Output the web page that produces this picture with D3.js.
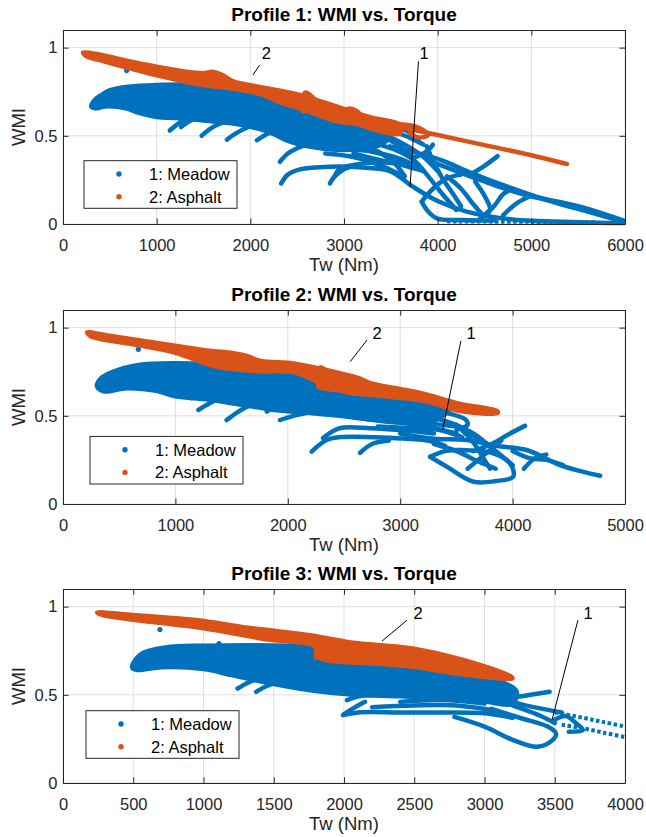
<!DOCTYPE html>
<html><head><meta charset="utf-8">
<script src="https://cdn.jsdelivr.net/npm/d3@7"></script>
<style>
body{margin:0;background:#fff}
svg text{font-family:"Liberation Sans",Arial,Helvetica,sans-serif}
</style>
</head><body>
<svg id="chart" width="646" height="837"></svg>
<script>
// ---------------- DATA ----------------
const profileTitles = ["Profile 1: WMI vs. Torque","Profile 2: WMI vs. Torque","Profile 3: WMI vs. Torque"];
const xMaxes = [6000, 5000, 4000];
const xTicksP1 = [0,1000,2000,3000,4000,5000,6000];
const xTicksP2 = [0,1000,2000,3000,4000,5000];
const xTicksP3 = [0,500,1000,1500,2000,2500,3000,3500,4000];
const yTicks = [0, 0.5, 1];
const yMax = 1.1;
const xLabel = "Tw (Nm)";
const yLabel = "WMI";
const seriesNames = ["1: Meadow", "2: Asphalt"];

// Profile 1 ---------------------------------------------------------
const asphaltBodyP1 = [[210,0.975],[400,0.962],[670,0.93],[1000,0.895],[1300,0.868],[1500,0.858],[1600,0.866],[1700,0.848],[1820,0.812],[2100,0.78],[2530,0.735],[3000,0.655],[3300,0.605],[3600,0.565],[3600,0.51],[3300,0.535],[3170,0.56],[2880,0.585],[2600,0.64],[2300,0.69],[2100,0.735],[1800,0.765],[1490,0.785],[1300,0.805],[1000,0.84],[670,0.885],[400,0.925],[240,0.95]];
const asphaltTracesP1 = [
  [[3500,0.56],[4000,0.505],[4500,0.447],[5000,0.39],[5380,0.34]],
  [[2560,0.64],[2583,0.745],[2708,0.685],[2562,0.637]],
  [[2880,0.60],[3064,0.655],[3170,0.62],[3028,0.575]],
  [[3600,0.565],[3700,0.56],[3800,0.545],[3900,0.505],[3800,0.49],[3700,0.515]]
];
const meadowBodyP1 = [[300,0.665],[330,0.70],[400,0.73],[500,0.76],[700,0.78],[1000,0.79],[1400,0.792],[1800,0.79],[2000,0.77],[2200,0.745],[2500,0.70],[2800,0.66],[3100,0.61],[3300,0.575],[3500,0.54],[3500,0.50],[3400,0.45],[3200,0.425],[2900,0.42],[2600,0.44],[2400,0.47],[2200,0.52],[2000,0.55],[1800,0.57],[1500,0.585],[1200,0.60],[1000,0.605],[800,0.63],[670,0.655],[450,0.665],[350,0.655]];
const meadowTracesP1 = [
  [[1140,0.53],[1220,0.565],[1320,0.60],[1420,0.625]],
  [[1260,0.55],[1360,0.585],[1480,0.61]],
  [[1480,0.50],[1570,0.54],[1680,0.57],[1800,0.59]],
  [[1750,0.478],[1850,0.515],[1980,0.55],[2100,0.57]],
  [[2070,0.475],[2160,0.505],[2280,0.53],[2400,0.55]],
  [[2316,0.353],[2400,0.40],[2500,0.43],[2600,0.45]],
  [[2850,0.23],[2900,0.27],[3000,0.31],[3100,0.33]],
  [[2900,0.56],[3200,0.53],[3450,0.50],[3650,0.45],[3850,0.38],[4000,0.30]],
  [[3000,0.50],[3300,0.46],[3550,0.42],[3750,0.36],[3900,0.27],[4050,0.17],[4200,0.08]],
  [[2950,0.45],[3250,0.42],[3500,0.38],[3700,0.33]],
  [[3300,0.58],[3500,0.53],[3700,0.49],[3850,0.45]],
  [[3100,0.40],[3400,0.36],[3650,0.33],[3850,0.30]],
  [[2700,0.45],[3000,0.43],[3300,0.41],[3600,0.37],[3800,0.32]],
  [[2800,0.40],[3100,0.38],[3400,0.33],[3600,0.28]],
  [[3200,0.45],[3400,0.40],[3550,0.34],[3650,0.27]],
  [[3400,0.50],[3600,0.44],[3750,0.38],[3900,0.42],[3950,0.45]],
  [[3550,0.55],[3700,0.52],[3800,0.47]],
  [[2330,0.23],[2400,0.28],[2530,0.31],[2850,0.325],[3200,0.32],[3490,0.30],[3740,0.21],[4000,0.13],[4310,0.07],[4800,0.025],[5500,0.01],[5980,0.005]],
  [[2900,0.27],[2950,0.31],[3100,0.335],[3400,0.35],[3600,0.34]],
  [[3490,0.44],[3800,0.40],[4100,0.35],[4310,0.30],[4700,0.22],[5164,0.136],[5600,0.07],[5980,0.013]],
  [[3900,0.36],[4200,0.30],[4452,0.25],[4900,0.17],[5520,0.098],[5980,0.02]],
  [[4377,0.29],[4500,0.33],[4640,0.385]],
  [[3883,0.44],[3950,0.36],[4050,0.26],[4165,0.17],[4250,0.10]],
  [[3829,0.127],[3900,0.07],[4000,0.03],[4270,0.023],[4600,0.02]],
  [[3829,0.127],[3950,0.20],[4100,0.26],[4250,0.28]],
  [[4100,0.27],[4250,0.20],[4400,0.10],[4500,0.05],[4560,0.08],[4500,0.16],[4400,0.24]],
  [[4450,0.03],[4600,0.10],[4700,0.17],[4800,0.20]],
  [[4700,0.05],[4850,0.12],[5000,0.16]]
];
const meadowDottedP1 = [[[4100,0.015],[5000,0.012],[5700,0.01]]];
const meadowStrayP1 = [[680,0.87]];
const annotationsP1 = [
  {label:"2", text:[2172,0.968], from:[2098,0.90], to:[2028,0.845]},
  {label:"1", text:[3855,0.968], from:[3795,0.922], to:[3705,0.21]}
];

// Profile 2 ---------------------------------------------------------
const asphaltBodyP2 = [[210,0.975],[400,0.958],[1000,0.90],[1300,0.872],[1515,0.858],[1650,0.84],[1750,0.815],[2050,0.80],[2290,0.77],[2640,0.715],[2730,0.69],[3180,0.632],[3530,0.572],[3870,0.527],[3870,0.515],[3530,0.525],[3235,0.578],[2900,0.605],[2490,0.635],[2300,0.68],[2050,0.745],[1750,0.75],[1335,0.78],[1000,0.855],[600,0.905],[240,0.95]];
const asphaltTracesP2 = [
  [[2270,0.665],[2290,0.775],[2470,0.65],[2280,0.66]],
  [[2600,0.63],[2700,0.68],[2750,0.64]]
];
const meadowBodyP2 = [[300,0.667],[330,0.71],[420,0.745],[670,0.79],[1000,0.80],[1460,0.79],[2020,0.765],[2300,0.725],[2700,0.665],[3000,0.625],[3250,0.585],[3450,0.55],[3300,0.47],[3000,0.46],[2700,0.48],[2435,0.50],[2100,0.52],[1900,0.53],[1600,0.56],[1300,0.59],[1000,0.61],[830,0.64],[570,0.655],[360,0.637]];
const meadowTracesP2 = [
  [[1145,0.60],[1250,0.63],[1367,0.656]],
  [[1204,0.533],[1300,0.57],[1400,0.60],[1515,0.618]],
  [[1456,0.476],[1550,0.52],[1650,0.555],[1753,0.571]],
  [[1812,0.524],[1900,0.56],[2000,0.59],[2108,0.609]],
  [[1930,0.476],[2050,0.50],[2200,0.52]],
  [[2212,0.297],[2346,0.363],[2490,0.38],[2900,0.375],[3240,0.36],[3400,0.33]],
  [[2313,0.374],[2464,0.43],[2730,0.43],[3000,0.42],[3300,0.40]],
  [[2642,0.29],[2750,0.34],[2900,0.36]],
  [[2700,0.48],[3000,0.46],[3240,0.44],[3500,0.40]],
  [[2900,0.52],[3200,0.50],[3450,0.46],[3650,0.40],[3850,0.30],[4000,0.22]],
  [[3200,0.56],[3400,0.52],[3580,0.48],[3600,0.45],[3500,0.42]],
  [[3000,0.40],[3300,0.37],[3591,0.363],[3850,0.33],[4125,0.306],[4422,0.221],[4780,0.16]],
  [[3265,0.268],[3400,0.30],[3532,0.306],[3828,0.287],[3977,0.23],[4006,0.155],[3850,0.13],[3650,0.127],[3414,0.212],[3265,0.268]],
  [[3650,0.30],[3828,0.344],[3950,0.39],[4110,0.443]],
  [[3500,0.45],[3650,0.35],[3750,0.25],[3800,0.20]],
  [[3600,0.20],[3750,0.28],[3900,0.36]],
  [[4000,0.30],[4150,0.26],[4300,0.25],[4450,0.22]],
  [[4100,0.20],[4200,0.26],[4300,0.28]],
  [[3300,0.34],[3500,0.30],[3700,0.24],[3850,0.20]],
  [[2800,0.44],[3100,0.43],[3350,0.42],[3550,0.38]],
  [[3100,0.48],[3350,0.45],[3550,0.43],[3700,0.36]]
];
const meadowDottedP2 = [];
const meadowStrayP2 = [[670,0.877]];
const annotationsP2 = [
  {label:"2", text:[2794,0.97], from:[2705,0.93], to:[2555,0.807]},
  {label:"1", text:[3630,0.97], from:[3540,0.925], to:[3378,0.42]}
];

// Profile 3 ---------------------------------------------------------
const asphaltBodyP3 = [[240,0.968],[500,0.955],[1000,0.922],[1300,0.885],[1460,0.87],[1760,0.84],[2050,0.80],[2490,0.765],[2850,0.70],[3200,0.60],[3200,0.59],[2850,0.612],[2500,0.655],[2200,0.675],[2050,0.68],[1815,0.71],[1800,0.77],[1460,0.81],[1000,0.875],[430,0.93],[260,0.955]];
const asphaltTracesP3 = [
  [[1800,0.71],[1820,0.80],[1900,0.78]]
];
const meadowBodyP3 = [[490,0.656],[550,0.73],[730,0.77],[1000,0.78],[1600,0.78],[2200,0.755],[2500,0.72],[2850,0.65],[3000,0.61],[3230,0.52],[3200,0.45],[3000,0.46],[2700,0.48],[2400,0.49],[2050,0.50],[1800,0.52],[1500,0.56],[1200,0.61],[1000,0.645],[700,0.655],[520,0.64]];
const meadowTracesP3 = [
  [[1243,0.536],[1320,0.57],[1420,0.60]],
  [[1375,0.517],[1450,0.55],[1560,0.58]],
  [[2021,0.47],[2100,0.49],[2200,0.50]],
  [[1993,0.385],[2100,0.40],[2400,0.40],[2700,0.40],[3000,0.395],[3200,0.37]],
  [[2000,0.39],[2080,0.43],[2150,0.46]],
  [[2200,0.43],[2500,0.44],[2800,0.44],[3082,0.41]],
  [[2400,0.46],[2700,0.47],[3000,0.45]],
  [[2786,0.375],[3000,0.32],[3200,0.245],[3374,0.205],[3480,0.24],[3509,0.28],[3450,0.32],[3250,0.37],[3050,0.42]],
  [[3051,0.47],[3250,0.49],[3464,0.517]],
  [[3000,0.50],[3200,0.44],[3400,0.38],[3500,0.34]],
  [[3150,0.47],[3350,0.43],[3550,0.40]],
  [[3500,0.36],[3580,0.38],[3650,0.34],[3700,0.30],[3600,0.29]]
];
const meadowDottedP3 = [
  [[3500,0.40],[3700,0.37],[3850,0.345],[4000,0.32]],
  [[3550,0.33],[3700,0.31],[3850,0.285],[4000,0.26]]
];
const meadowStrayP3 = [[690,0.87],[1110,0.79],[1950,0.77]];
const annotationsP3 = [
  {label:"2", text:[2527,0.963], from:[2448,0.923], to:[2270,0.804]},
  {label:"1", text:[3737,0.963], from:[3665,0.923], to:[3480,0.356]}
];

// ---------------- LAYOUT / STYLE ----------------
const colors = {meadow:"#0072BD", asphalt:"#D95319", axis:"#262626", grid:"#dfdfdf"};
const plotLeft = 63, plotWidth = 562, plotHeight = 194;
const panelTops = [30, 310, 589];
const legendOffsets = [[21, 15.7], [27, 20], [23, 24.7]]; // [from left, from bottom]

const panels = [
  {title:profileTitles[0], xMax:xMaxes[0], xTicks:xTicksP1, aBody:asphaltBodyP1, aTraces:asphaltTracesP1, mBody:meadowBodyP1, mTraces:meadowTracesP1, mDotted:meadowDottedP1, mStray:meadowStrayP1, ann:annotationsP1},
  {title:profileTitles[1], xMax:xMaxes[1], xTicks:xTicksP2, aBody:asphaltBodyP2, aTraces:asphaltTracesP2, mBody:meadowBodyP2, mTraces:meadowTracesP2, mDotted:meadowDottedP2, mStray:meadowStrayP2, ann:annotationsP2},
  {title:profileTitles[2], xMax:xMaxes[2], xTicks:xTicksP3, aBody:asphaltBodyP3, aTraces:asphaltTracesP3, mBody:meadowBodyP3, mTraces:meadowTracesP3, mDotted:meadowDottedP3, mStray:meadowStrayP3, ann:annotationsP3}
];

const svg = d3.select("#chart");
const tickFont = 16.5, labelFont = 18.5, titleFont = 19;

panels.forEach((p, i) => {
  const top = panelTops[i];
  const g = svg.append("g").attr("transform", `translate(${plotLeft},${top})`);
  const x = d3.scaleLinear().domain([0, p.xMax]).range([0, plotWidth]);
  const y = d3.scaleLinear().domain([0, yMax]).range([plotHeight, 0]);

  // grid
  g.append("g").selectAll("line").data(p.xTicks).join("line")
    .attr("x1", d => x(d)).attr("x2", d => x(d)).attr("y1", 0).attr("y2", plotHeight)
    .attr("stroke", colors.grid).attr("stroke-width", 1);
  g.append("g").selectAll("line").data(yTicks).join("line")
    .attr("x1", 0).attr("x2", plotWidth).attr("y1", d => y(d)).attr("y2", d => y(d))
    .attr("stroke", colors.grid).attr("stroke-width", 1);

  const lineClosed = d3.line().x(d => x(d[0])).y(d => y(d[1])).curve(d3.curveCatmullRomClosed.alpha(0.5));
  const lineOpen = d3.line().x(d => x(d[0])).y(d => y(d[1])).curve(d3.curveCatmullRom.alpha(0.5));

  // Meadow
  const gm = g.append("g");
  gm.append("path").attr("d", lineClosed(p.mBody))
    .attr("fill", colors.meadow).attr("stroke", colors.meadow).attr("stroke-width", 4).attr("stroke-linejoin", "round");
  gm.selectAll("path.tr").data(p.mTraces).join("path").attr("class", "tr")
    .attr("d", d => lineOpen(d)).attr("fill", "none").attr("stroke", colors.meadow)
    .attr("stroke-width", 4.5).attr("stroke-linecap", "round").attr("stroke-linejoin", "round");
  gm.selectAll("path.dt").data(p.mDotted).join("path").attr("class", "dt")
    .attr("d", d => lineOpen(d)).attr("fill", "none").attr("stroke", colors.meadow)
    .attr("stroke-width", 4).attr("stroke-dasharray", "3.5,2.5");
  gm.selectAll("circle").data(p.mStray).join("circle")
    .attr("cx", d => x(d[0])).attr("cy", d => y(d[1])).attr("r", 2.6).attr("fill", colors.meadow);

  // Asphalt
  const ga = g.append("g");
  ga.append("path").attr("d", lineClosed(p.aBody))
    .attr("fill", colors.asphalt).attr("stroke", colors.asphalt).attr("stroke-width", 3.5).attr("stroke-linejoin", "round");
  ga.selectAll("path.tr").data(p.aTraces).join("path").attr("class", "tr")
    .attr("d", d => lineOpen(d)).attr("fill", "none").attr("stroke", colors.asphalt)
    .attr("stroke-width", 4.5).attr("stroke-linecap", "round").attr("stroke-linejoin", "round");

  // axes (box with inward ticks)
  const tl = 5.6;
  const axB = g.append("g").attr("transform", `translate(0,${plotHeight})`)
    .call(d3.axisBottom(x).tickValues(p.xTicks).tickFormat(d3.format("d")).tickSizeInner(-tl).tickSizeOuter(0).tickPadding(15));
  const axL = g.append("g")
    .call(d3.axisLeft(y).tickValues(yTicks).tickFormat(d => d === 0.5 ? "0.5" : d3.format("d")(d)).tickSizeInner(-tl).tickSizeOuter(0).tickPadding(5.5));
  const axT = g.append("g")
    .call(d3.axisTop(x).tickValues(p.xTicks).tickFormat("").tickSizeInner(-tl).tickSizeOuter(0));
  const axR = g.append("g").attr("transform", `translate(${plotWidth},0)`)
    .call(d3.axisRight(y).tickValues(yTicks).tickFormat("").tickSizeInner(-tl).tickSizeOuter(0));
  [axB, axL, axT, axR].forEach(a => {
    a.selectAll("path").attr("stroke", colors.axis).attr("stroke-width", 1);
    a.selectAll("line").attr("stroke", colors.axis).attr("stroke-width", 1);
    a.selectAll("text").attr("fill", colors.axis).style("font-size", tickFont + "px")
      .style("font-family", '"Liberation Sans",Arial,Helvetica,sans-serif');
  });

  // labels
  g.append("text").attr("x", plotWidth / 2).attr("y", plotHeight + 47)
    .attr("text-anchor", "middle").attr("fill", colors.axis).style("font-size", labelFont + "px").text(xLabel);
  g.append("text").attr("transform", `translate(${18.5 - plotLeft},${plotHeight / 2}) rotate(-90)`)
    .attr("text-anchor", "middle").attr("dy", "0.35em").attr("fill", colors.axis).style("font-size", labelFont + "px").text(yLabel);
  g.append("text").attr("x", plotWidth / 2).attr("y", -9)
    .attr("text-anchor", "middle").attr("fill", "#000").style("font-size", titleFont + "px").style("font-weight", "bold").text(p.title);

  // annotations
  p.ann.forEach(a => {
    g.append("line").attr("x1", x(a.from[0])).attr("y1", y(a.from[1])).attr("x2", x(a.to[0])).attr("y2", y(a.to[1]))
      .attr("stroke", "#000").attr("stroke-width", 1);
    g.append("text").attr("x", x(a.text[0])).attr("y", y(a.text[1])).attr("dy", "0.36em")
      .attr("text-anchor", "middle").attr("fill", "#000").style("font-size", tickFont + "px").text(a.label);
  });

  // legend
  const lw = 153, lh = 47.6;
  const lx = legendOffsets[i][0], ly = plotHeight - legendOffsets[i][1] - lh;
  const lg = g.append("g").attr("transform", `translate(${lx},${ly})`);
  lg.append("rect").attr("width", lw).attr("height", lh).attr("fill", "#fff").attr("stroke", colors.axis).attr("stroke-width", 1);
  const legColors = [colors.meadow, colors.asphalt];
  lg.selectAll("g").data(seriesNames).join("g")
    .attr("transform", (d, j) => `translate(0,${13.3 + j * 22.7})`)
    .each(function(d, j) {
      const it = d3.select(this);
      it.append("circle").attr("cx", 35).attr("cy", 0).attr("r", 2.7).attr("fill", legColors[j]);
      it.append("text").attr("x", 65).attr("dy", "0.36em").attr("fill", "#000").style("font-size", tickFont + "px").text(d);
    });
});
</script>
</body></html>
